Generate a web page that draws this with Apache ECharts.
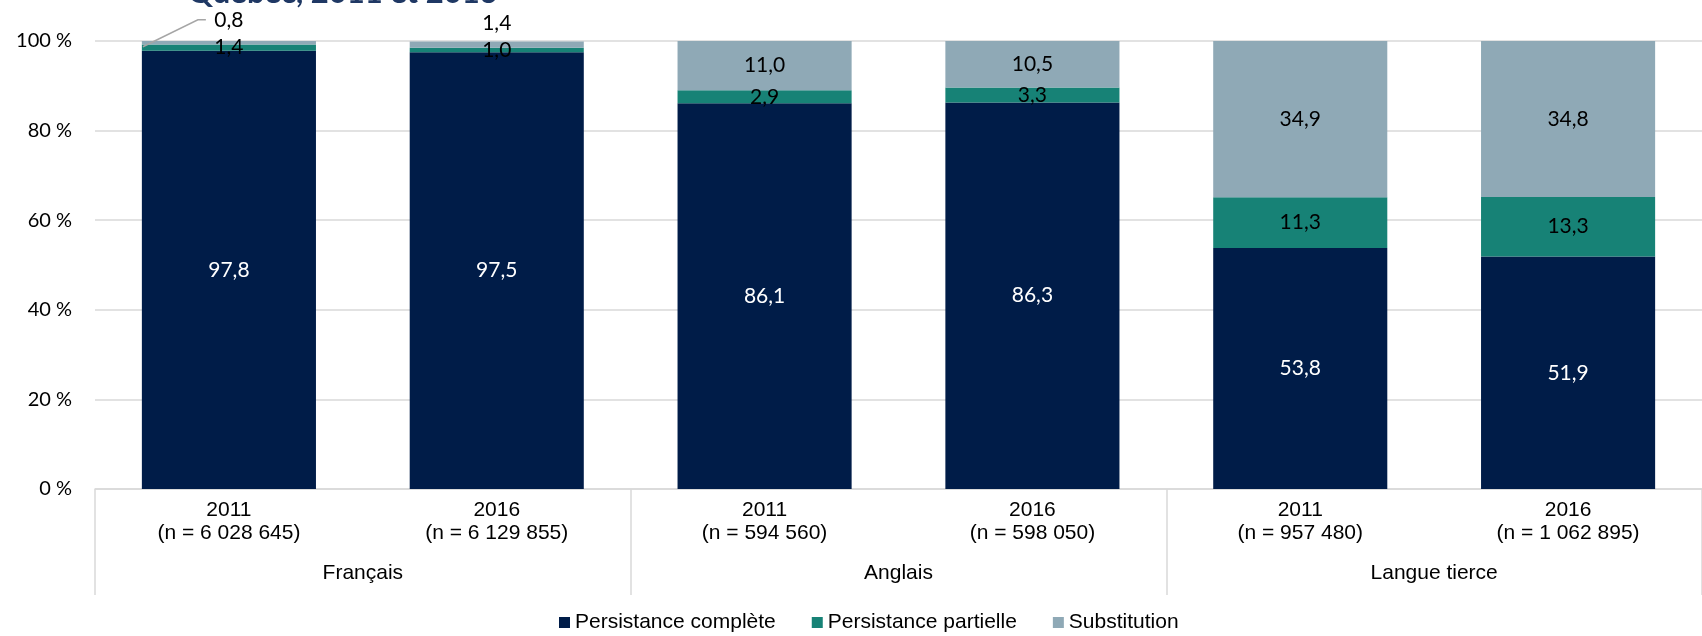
<!DOCTYPE html>
<html>
<head>
<meta charset="utf-8">
<script src="https://cdn.jsdelivr.net/npm/echarts@6/dist/echarts.min.js"></script>
<style>
  html, body { margin: 0; padding: 0; background: #ffffff; }
  #chart { width: 1702px; height: 636px; }
</style>
</head>
<body>
<div id="chart"></div>
<script>
// ---- Data ----
const titleText = 'Québec, 2011 et 2016';
const years = ['2011', '2016', '2011', '2016', '2011', '2016'];
const sampleSizes = ['6 028 645', '6 129 855', '594 560', '598 050', '957 480', '1 062 895'];
const groups = ['Français', 'Anglais', 'Langue tierce'];
const seriesNames = ['Persistance complète', 'Persistance partielle', 'Substitution'];
const complete = [97.8, 97.5, 86.1, 86.3, 53.8, 51.9];
const partial = [1.4, 1.0, 2.9, 3.3, 11.3, 13.3];
const substitution = [0.8, 1.4, 11.0, 10.5, 34.9, 34.8];
const yTicks = [0, 20, 40, 60, 80, 100];

const colors = ['#001C48', '#178276', '#8FA9B6'];
const labelFont = 'Lato';
const catFont = '"Liberation Sans", Arial, sans-serif';
const gridColor = '#d9d9d9';

const categories = years.map((y, i) => y + '\n(n = ' + sampleSizes[i] + ')');
const fmt = v => v.toFixed(1).replace('.', ',');

const chart = echarts.init(document.getElementById('chart'), null, { renderer: 'canvas' });

function makeSeries(name, data, idx, labelColor) {
  return {
    name: name,
    type: 'bar',
    stack: 'total',
    xAxisIndex: 0,
    yAxisIndex: 0,
    barCategoryGap: '35%',
    data: data,
    itemStyle: { color: colors[idx] },
    label: {
      show: true,
      position: 'inside',
      color: labelColor,
      fontFamily: labelFont,
      fontSize: 21,
      formatter: p => fmt(p.value)
    },
    emphasis: { disabled: true }
  };
}

const series = [
  makeSeries(seriesNames[0], complete, 0, '#ffffff'),
  makeSeries(seriesNames[1], partial, 1, '#000000'),
  makeSeries(seriesNames[2], substitution, 2, '#000000')
];
// Small "Substitution" values of the Français bars are shown above the bars
series[2].labelLayout = function (params) {
  if (params.dataIndex === 0) return { dy: -23 };
  if (params.dataIndex === 1) return { dy: -21 };
  return {};
};

const option = {
  animation: false,
  backgroundColor: '#ffffff',
  color: colors,
  legend: {
    data: seriesNames,
    left: 554,
    top: 607,
    icon: 'rect',
    itemWidth: 11,
    itemHeight: 11,
    itemGap: 36,
    textStyle: { fontFamily: catFont, fontSize: 21, color: '#000000' }
  },
  grid: { left: 95, top: 41, width: 1610, height: 448, containLabel: false },
  xAxis: [
    {
      type: 'category',
      data: categories,
      position: 'bottom',
      axisLine: { show: true, lineStyle: { color: gridColor, width: 1.5 } },
      axisTick: { show: false },
      axisLabel: {
        interval: 0,
        margin: 10,
        fontFamily: catFont,
        fontSize: 21,
        lineHeight: 23,
        color: '#000000'
      }
    },
    {
      type: 'category',
      data: groups,
      position: 'bottom',
      axisLine: { show: false },
      axisTick: { show: true, length: 106, lineStyle: { color: gridColor, width: 1.5 } },
      axisLabel: {
        interval: 0,
        margin: 74,
        fontFamily: catFont,
        fontSize: 21,
        color: '#000000'
      }
    }
  ],
  yAxis: {
    type: 'value',
    min: yTicks[0],
    max: yTicks[yTicks.length - 1],
    interval: 20,
    axisLine: { show: false },
    axisTick: { show: false },
    splitLine: { show: true, lineStyle: { color: gridColor, width: 1.5 } },
    axisLabel: {
      margin: 23,
      fontFamily: labelFont,
      fontSize: 20,
      color: '#000000',
      formatter: v => v + ' %'
    }
  },
  graphic: [
    {
      type: 'text',
      left: 188,
      top: -23,
      style: {
        text: titleText,
        fontFamily: labelFont,
        fontWeight: 'bold',
        fontSize: 31,
        fill: '#1F3864'
      }
    }
  ],
  series: series
};

chart.setOption(option);

// Leader line for the "Substitution" label of the first bar, placed from the axis scales
(function () {
  const c0 = chart.convertToPixel({ xAxisIndex: 0, yAxisIndex: 0 }, [0, 0]);
  const c1 = chart.convertToPixel({ xAxisIndex: 0, yAxisIndex: 0 }, [1, 0]);
  const catW = c1[0] - c0[0];
  const barW = catW * 0.65;
  const segTop = complete[0] + partial[0];
  const segMid = chart.convertToPixel({ xAxisIndex: 0, yAxisIndex: 0 }, [0, segTop + substitution[0] / 2]);
  const labelY = segMid[1] - 23;
  const x0 = c0[0] - barW / 2 + 1;
  const pts = [
    [x0, segMid[1] + 4],
    [x0 + 55, labelY],
    [x0 + 63, labelY]
  ];
  chart.setOption({
    graphic: [
      option.graphic[0],
      {
        type: 'polyline',
        shape: { points: pts },
        style: { stroke: '#a6a6a6', lineWidth: 1.5, fill: null },
        z: 10
      }
    ]
  });
})();
</script>
</body>
</html>
